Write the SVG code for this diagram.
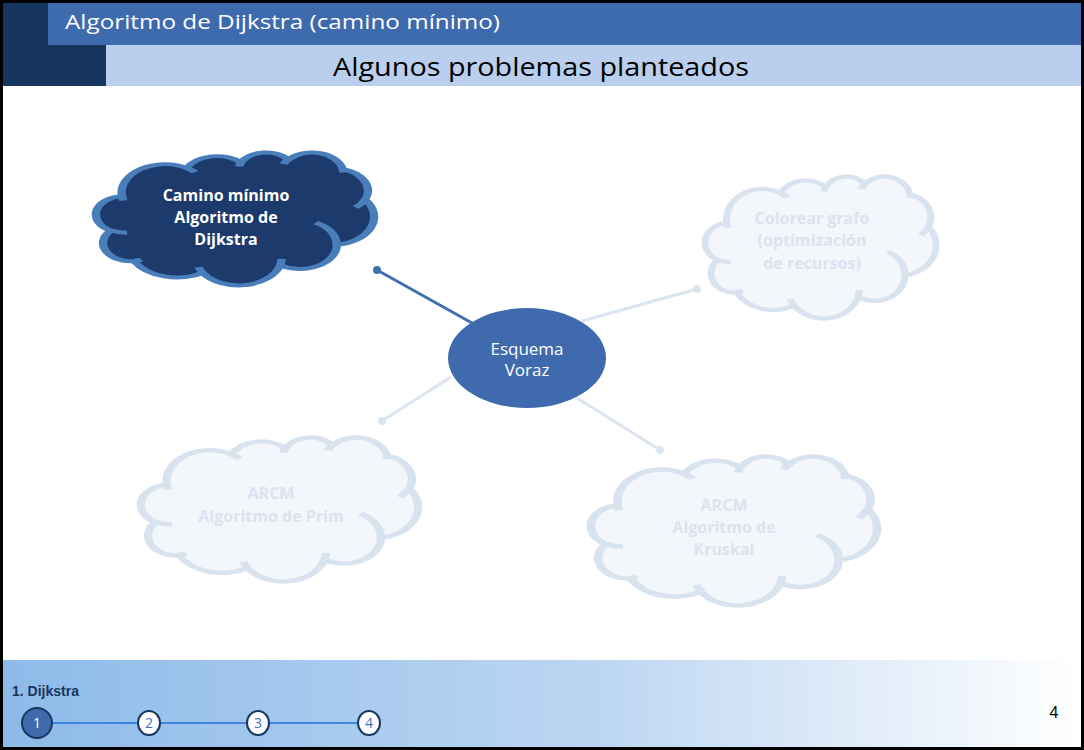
<svg xmlns="http://www.w3.org/2000/svg" xmlns:xlink="http://www.w3.org/1999/xlink" width="1084" height="750" viewBox="0 0 1084 750">
<defs>
<linearGradient id="foot" x1="0" y1="0" x2="1" y2="0">
<stop offset="0" stop-color="#8dbae9"/>
<stop offset="0.55" stop-color="#bcd6f2"/>
<stop offset="1" stop-color="#ffffff"/>
</linearGradient>
<path id="cloudShape" d="M9.03,33.26 A15.63 21.27 0 0 1 32.42,12.04 A12.34 16.82 0 0 1 51.98,7.95 A10.10 13.76 0 0 1 69.06,5.74 A11.24 15.27 0 0 1 88.70,12.90 A12.34 16.84 0 0 1 96.80,35.78 A15.68 21.34 0 0 1 86.58,69.91 A13.39 18.21 0 0 1 66.10,85.21 A15.63 21.33 0 0 1 38.15,90.88 A17.87 24.41 0 0 1 13.43,82.10 A10.09 13.70 0 0 1 4.89,59.13 A10.06 13.76 0 0 1 9.03,33.26 Z"/>
<path id="cloudCrease" d="M10.86,60.59 A10.06 13.76 0 0 1 5.00,58.75 M16.04,80.78 A10.09 13.70 0 0 1 13.47,81.67 M38.14,90.49 A15.63 21.33 0 0 1 36.60,86.46 M66.73,80.44 A15.63 21.33 0 0 1 66.11,84.86 M79.00,53.13 A13.39 18.21 0 0 1 86.53,69.65 M96.75,35.54 A12.34 16.84 0 0 1 93.40,41.73 M88.71,12.56 A11.24 15.27 0 0 1 88.89,15.49 M67.31,9.15 A11.24 15.27 0 0 1 69.03,5.42 M51.25,10.93 A10.10 13.76 0 0 1 52.08,7.71 M32.41,12.02 A15.63 21.27 0 0 1 35.42,15.14 M9.55,36.55 A15.63 21.27 0 0 1 9.03,33.26"/>
</defs>
<style>
.cloudDark use{fill:#1c3a6c;stroke:#4a7ebb;stroke-width:3;vector-effect:non-scaling-stroke}
.cloudFade use{fill:#f3f6fb;stroke:#d9e3f0;stroke-width:3;vector-effect:non-scaling-stroke}
.cloudDark use.cr,.cloudFade use.cr{fill:none}
.tDark{font-family:"Open Sans","Liberation Sans",sans-serif;font-weight:bold;font-size:16px;fill:#ffffff;text-anchor:middle}
.tFade{font-family:"Open Sans","Liberation Sans",sans-serif;font-weight:bold;font-size:16px;fill:#dbe3f0;text-anchor:middle}
.conFade{stroke:#dbe4f1;stroke-width:3;fill:none}
.dotFade{fill:#dbe4f1}
.step{fill:#ffffff;stroke:#17375e;stroke-width:2}
.stepT{font-family:"Open Sans","Liberation Sans",sans-serif;font-size:14px;fill:#4472c4;text-anchor:middle}
</style>
<rect x="0" y="0" width="1084" height="750" fill="#ffffff"/>
<g id="header">
<rect x="3" y="3" width="1078" height="42" fill="#3e6aae"/>
<rect x="106" y="45" width="975" height="41" fill="#b9cfed"/>
<path d="M3,3 H48 V45 H106 V86 H3 Z" fill="#17365f"/>
<text x="65" y="29" font-family="Open Sans, Liberation Sans, sans-serif" font-size="20" fill="#ffffff" textLength="435" lengthAdjust="spacingAndGlyphs">Algoritmo de Dijkstra (camino mínimo)</text>
<text x="541" y="76" font-family="Open Sans, Liberation Sans, sans-serif" font-size="25" fill="#000000" text-anchor="middle" textLength="416" lengthAdjust="spacingAndGlyphs">Algunos problemas planteados</text>
</g>
<g id="connectors">
<line x1="377" y1="270" x2="472" y2="323" stroke="#4170b0" stroke-width="3"/>
<circle cx="377" cy="270" r="4" fill="#4170b0"/>
<line class="conFade" x1="582" y1="321" x2="697" y2="289"/>
<circle class="dotFade" cx="697" cy="289" r="4"/>
<line class="conFade" x1="451" y1="377" x2="382" y2="421"/>
<circle class="dotFade" cx="382" cy="421" r="4"/>
<line class="conFade" x1="577" y1="398" x2="660" y2="450"/>
<circle class="dotFade" cx="660" cy="450" r="4"/>
</g>
<g id="node-dijkstra" class="cloudDark">
<use xlink:href="#cloudShape" transform="translate(97,152) scale(2.77,1.33)"/>
<use class="cr" xlink:href="#cloudCrease" transform="translate(97,152) scale(2.77,1.33)"/>
<text class="tDark" x="226" y="201">Camino mínimo</text>
<text class="tDark" x="226" y="223">Algoritmo de</text>
<text class="tDark" x="226" y="245">Dijkstra</text>
</g>
<g id="node-colorear" class="cloudFade">
<use xlink:href="#cloudShape" transform="translate(706,176) scale(2.30,1.42)"/>
<use class="cr" xlink:href="#cloudCrease" transform="translate(706,176) scale(2.30,1.42)"/>
<text class="tFade" x="812" y="224">Colorear grafo</text>
<text class="tFade" x="812" y="246">(optimización</text>
<text class="tFade" x="812" y="269">de recursos)</text>
</g>
<g id="node-prim" class="cloudFade">
<use xlink:href="#cloudShape" transform="translate(142,437) scale(2.76,1.44)"/>
<use class="cr" xlink:href="#cloudCrease" transform="translate(142,437) scale(2.76,1.44)"/>
<text class="tFade" x="271" y="499">ARCM</text>
<text class="tFade" x="271" y="522">Algoritmo de Prim</text>
</g>
<g id="node-kruskal" class="cloudFade">
<use xlink:href="#cloudShape" transform="translate(592,456) scale(2.85,1.49)"/>
<use class="cr" xlink:href="#cloudCrease" transform="translate(592,456) scale(2.85,1.49)"/>
<text class="tFade" x="724" y="511">ARCM</text>
<text class="tFade" x="724" y="533">Algoritmo de</text>
<text class="tFade" x="724" y="555">Kruskal</text>
</g>
<g id="node-voraz">
<ellipse cx="527" cy="358" rx="79" ry="50" fill="#3f6bae"/>
<text x="527" y="355" font-family="Open Sans, Liberation Sans, sans-serif" font-size="17" fill="#ffffff" text-anchor="middle">Esquema</text>
<text x="527" y="376" font-family="Open Sans, Liberation Sans, sans-serif" font-size="17" fill="#ffffff" text-anchor="middle">Voraz</text>
</g>
<g id="footer">
<rect x="3" y="660" width="1078" height="87" fill="url(#foot)"/>
<text x="12" y="696" font-family="Liberation Sans, Arial, sans-serif" font-size="14" font-weight="bold" fill="#17375e">1. Dijkstra</text>
<line x1="37" y1="723" x2="369" y2="723" stroke="#1f6fe0" stroke-width="1.5"/>
<ellipse cx="37" cy="723" rx="15" ry="15" fill="#3f6bae" stroke="#17375e" stroke-width="2"/>
<text x="37" y="728" font-family="Open Sans, Liberation Sans, sans-serif" font-size="14" fill="#ffffff" text-anchor="middle">1</text>
<ellipse class="step" cx="149" cy="723" rx="11" ry="12"/>
<text class="stepT" x="149" y="728">2</text>
<ellipse class="step" cx="258" cy="723" rx="11" ry="12"/>
<text class="stepT" x="258" y="728">3</text>
<ellipse class="step" cx="369" cy="723" rx="11" ry="12"/>
<text class="stepT" x="369" y="728">4</text>
<text x="1054" y="718" font-family="Liberation Sans, Arial, sans-serif" font-size="16" fill="#000000" text-anchor="middle">4</text>
</g>
<rect x="1.5" y="1.5" width="1081" height="747" fill="none" stroke="#000000" stroke-width="3"/>
</svg>
